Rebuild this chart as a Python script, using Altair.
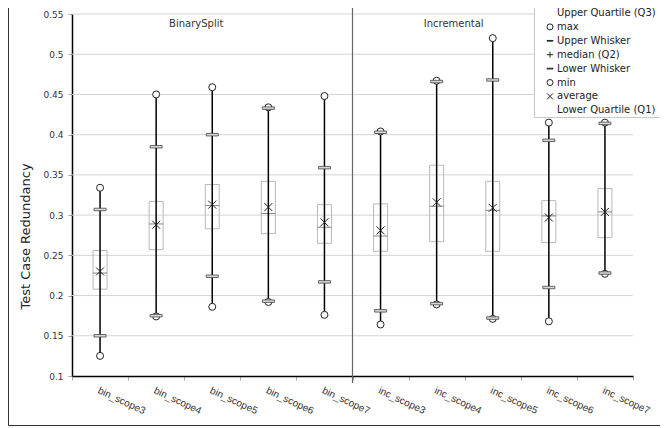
import altair as alt
import pandas as pd

cats = ["bin_scope3", "bin_scope4", "bin_scope5", "bin_scope6", "bin_scope7",
        "inc_scope3", "inc_scope4", "inc_scope5", "inc_scope6", "inc_scope7"]
max_v = [0.334, 0.450, 0.459, 0.434, 0.448, 0.404, 0.467, 0.520, 0.415, 0.415]
upper_whisker = [0.307, 0.385, 0.400, 0.433, 0.359, 0.403, 0.466, 0.468, 0.393, 0.414]
q3 = [0.256, 0.317, 0.338, 0.342, 0.313, 0.314, 0.362, 0.342, 0.318, 0.333]
median = [0.228, 0.289, 0.312, 0.302, 0.285, 0.274, 0.311, 0.306, 0.299, 0.304]
average = [0.230, 0.288, 0.313, 0.310, 0.291, 0.281, 0.316, 0.309, 0.297, 0.304]
q1 = [0.208, 0.257, 0.283, 0.277, 0.265, 0.255, 0.267, 0.255, 0.266, 0.272]
lower_whisker = [0.150, 0.175, 0.224, 0.193, 0.217, 0.181, 0.190, 0.172, 0.210, 0.228]
min_v = [0.125, 0.174, 0.186, 0.192, 0.176, 0.164, 0.189, 0.171, 0.168, 0.227]

y_ticks = [0.1, 0.15, 0.2, 0.25, 0.3, 0.35, 0.4, 0.45, 0.5, 0.55]
group_names = ["BinarySplit", "Incremental"]
legend_items = ["Upper Quartile (Q3)", "max", "Upper Whisker", "median (Q2)",
                "Lower Whisker", "min", "average", "Lower Quartile (Q1)"]

X_PATH = "M-1,-1L1,1M1,-1L-1,1"
PLUS_PATH = "M-1,0H1M0,-1V1"
BAR_PATH = "M-1,-0.12H1V0.12H-1Z"
EMPTY_PATH = "M0,0"
legend_shapes = [EMPTY_PATH, "circle", BAR_PATH, PLUS_PATH, BAR_PATH, "circle", X_PATH, EMPTY_PATH]

W, H = 561, 362

df = pd.DataFrame({
    "cat": cats, "max": max_v, "uw": upper_whisker, "q3": q3, "median": median,
    "avg": average, "q1": q1, "lw": lower_whisker, "min": min_v,
})
legend_df = pd.DataFrame({"item": legend_items})
grid_df = pd.DataFrame({"tick": y_ticks[1:]})
one = pd.DataFrame({"k": [0]})

x_enc = alt.X(
    "cat:N",
    sort=cats,
    scale=alt.Scale(domain=cats, paddingInner=0, paddingOuter=0),
    axis=alt.Axis(
        title=None, labelAngle=25, labelAlign="left", labelBaseline="top",
        tickBand="extent", grid=False, labelOverlap=False, labelFlush=False,
        labelFont="Liberation Sans", labelFontSize=10, labelColor="#333",
        tickColor="#aaaaaa", tickSize=4, labelPadding=5,
        domainColor="black", domainWidth=1.5,
    ),
)
y_scale = alt.Scale(domain=[0.1, 0.55], nice=False, zero=False)
y_axis = alt.Axis(
    values=y_ticks, format="~g", title="Test Case Redundancy", grid=False,
    titleFont="DejaVu Sans", titleFontSize=13, titleFontWeight="normal", titleColor="#222",
    titleAngle=-90, titleX=-47, titleY=222, titleAlign="center", titleBaseline="middle",
    labelFont="DejaVu Sans", labelFontSize=9, labelColor="#333", labelPadding=5,
    tickColor="#aaaaaa", tickSize=4,
    domainColor="black", domainWidth=1.5,
)

grid = alt.Chart(grid_df).mark_rule(color="#d4d4d4", strokeWidth=1).encode(
    x=alt.value(0), x2=alt.value(W),
    y=alt.Y("tick:Q", scale=y_scale, axis=y_axis))

base = alt.Chart(df)

boxes = base.mark_bar(filled=False, color="#b8b8b8", size=14, strokeWidth=1).encode(
    x=x_enc, y=alt.Y("q1:Q", scale=y_scale, axis=y_axis), y2="q3:Q")
med = base.mark_tick(size=14, thickness=1, color="#555555").encode(x=x_enc, y="median:Q")
rule = base.mark_rule(color="black", strokeWidth=1.5).encode(x=x_enc, y="min:Q", y2="max:Q")
circ_max = base.mark_point(shape="circle", filled=True, fill="white", stroke="#222",
                           strokeWidth=1, size=49, opacity=1).encode(x=x_enc, y="max:Q")
circ_min = base.mark_point(shape="circle", filled=True, fill="white", stroke="#222",
                           strokeWidth=1, size=49, opacity=1).encode(x=x_enc, y="min:Q")
uw_tick = base.mark_tick(size=12, thickness=2.5, fill="#d8d8d8", stroke="#444",
                         strokeWidth=0.8, opacity=1).encode(x=x_enc, y="uw:Q")
lw_tick = base.mark_tick(size=12, thickness=2.5, fill="#d8d8d8", stroke="#444",
                         strokeWidth=0.8, opacity=1).encode(x=x_enc, y="lw:Q")
avg_pt = base.mark_point(shape=X_PATH, size=64, filled=False, color="#222",
                         strokeWidth=1, opacity=1).encode(x=x_enc, y="avg:Q")

separator = alt.Chart(one).mark_rule(color="#666666", strokeWidth=1.2).encode(
    x=alt.XDatum("inc_scope3", bandPosition=0),
    y=alt.YDatum(0.58), y2=alt.Y2Datum(0.0913),
)

lbl_bin = alt.Chart(one).mark_text(font="DejaVu Sans", fontSize=10, color="#333",
                                   fontWeight="normal", baseline="middle",
                                   align="center", dx=-16).encode(
    x=alt.XDatum("bin_scope5"), y=alt.YDatum(0.5375), text=alt.value(group_names[0]))
lbl_inc = alt.Chart(one).mark_text(font="DejaVu Sans", fontSize=10, color="#333",
                                   fontWeight="normal", baseline="middle",
                                   align="center", dx=17).encode(
    x=alt.XDatum("inc_scope4"), y=alt.YDatum(0.5375), text=alt.value(group_names[1]))

frame = alt.Chart(one).mark_rect(fill="transparent", stroke="#333", strokeWidth=1).encode(
    x=alt.value(-63.5), x2=alt.value(700), y=alt.value(-30), y2=alt.value(411.5))

legend_box = alt.Chart(one).mark_rect(fill="white", stroke="#c8c8c8", strokeWidth=1).encode(
    x=alt.value(462.5), x2=alt.value(700), y=alt.value(-30), y2=alt.value(103.5))

legend_layer = alt.Chart(legend_df).mark_point(filled=False, color="#222", opacity=0).encode(
    x=alt.XDatum("bin_scope3"), y=alt.YDatum(0.3),
    shape=alt.Shape(
        "item:N",
        scale=alt.Scale(domain=legend_items, range=legend_shapes),
        legend=alt.Legend(
            title=None, orient="none", legendX=473, legendY=-6,
            labelFont="DejaVu Sans", labelFontSize=10, labelColor="#222",
            symbolSize=36, symbolStrokeColor="#222", symbolFillColor="transparent",
            symbolStrokeWidth=1, symbolOpacity=1, rowPadding=3.9, labelOffset=2,
            padding=0, labelLimit=250,
        ),
    ),
)

chart = alt.layer(
    grid, frame, boxes, med, rule, circ_max, circ_min, uw_tick, lw_tick, avg_pt,
    separator, lbl_bin, lbl_inc, legend_box, legend_layer,
).properties(
    width=W, height=H,
    padding={"left": 64, "top": 6, "right": 27, "bottom": 51},
    autosize=alt.AutoSizeParams(type="none"),
    background="white",
).configure_view(strokeWidth=0)

chart.save("out.html", embed_options={"renderer": "svg", "actions": False})
